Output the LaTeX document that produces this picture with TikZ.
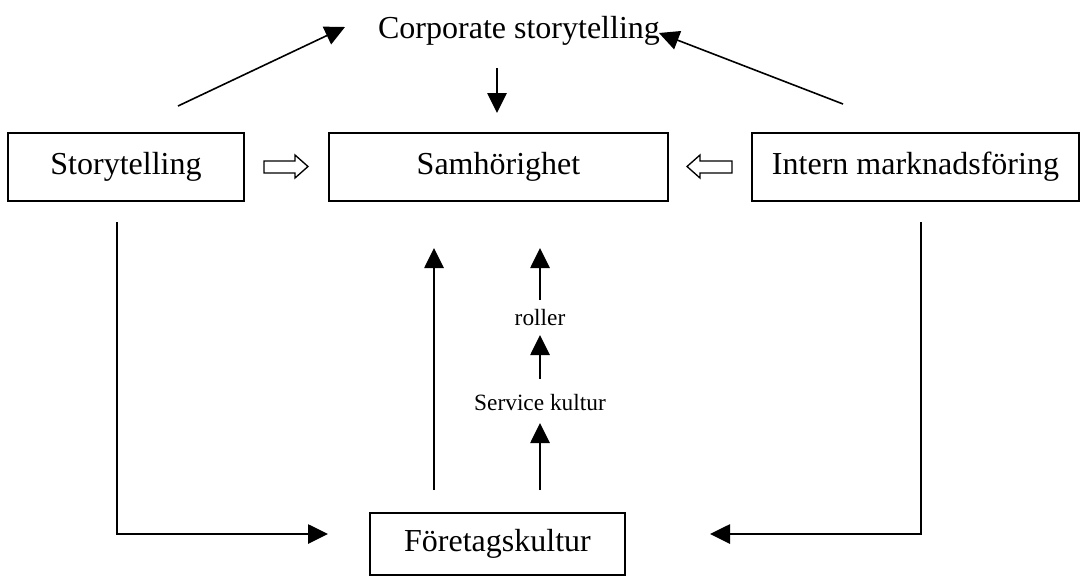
\documentclass[tikz,border=0pt]{standalone}
\usepackage{fontspec}
\setmainfont{Liberation Serif}
\usetikzlibrary{arrows.meta}
\begin{document}
\begin{tikzpicture}[x=0.75pt,y=-0.75pt,
  box/.style={draw,line width=1.3pt,minimum width=#1,minimum height=51pt,inner sep=0pt,font=\fontsize{24}{28}\selectfont},
  bigtext/.style={inner sep=0pt,font=\fontsize{24}{28}\selectfont},
  smalltext/.style={inner sep=0pt,font=\fontsize{17.5}{20}\selectfont},
  arr/.style={-{Triangle[length=15pt,width=14.5pt]},line width=1.2pt},
  hollow/.style={draw,line width=1pt,line join=miter}]
\useasboundingbox (0,0) rectangle (1082,576);
% nodes
\node[bigtext] (cs) at (519,31) {Corporate storytelling};
\node[box=177pt] (st) at (126,167) {Storytelling};
\node[box=254.25pt] (sa) at (498.5,167) {Samhörighet};
\node[box=245.25pt] (im) at (915.5,167) {Intern marknadsföring};
\node[box=191.25pt,minimum height=46.5pt] (fk) at (497.5,544) {Företagskultur};
\node[smalltext] (ro) at (540,318) {roller};
\node[smalltext] (sk) at (540,403) {Service kultur};
% connector end points
\coordinate (stUp) at (178,106);
\coordinate (csL) at (345,27);
\coordinate (imUp) at (843,104);
\coordinate (csR) at (659,33);
\coordinate (csDown) at (497,68);
\coordinate (saTop) at (497,113);
\coordinate (stDown) at (117,222);
\coordinate (fkL) at (328,534);
\coordinate (imDown) at (921,222);
\coordinate (fkR) at (710,534);
\coordinate (fkUpA) at (434,490);
\coordinate (saBotA) at (434,248);
\coordinate (fkUpB) at (540,490);
\coordinate (skBot) at (540,423);
\coordinate (skTop) at (540,379);
\coordinate (roBot) at (540,335);
\coordinate (roTop) at (540,300);
\coordinate (saBotB) at (540,248);
% connectors
\draw[arr] (stUp) -- (csL);
\draw[arr] (imUp) -- (csR);
\draw[arr] (csDown) -- (saTop);
\draw[arr] (stDown) |- (fkL);
\draw[arr] (imDown) |- (fkR);
\draw[arr] (fkUpA) -- (saBotA);
\draw[arr] (fkUpB) -- (skBot);
\draw[arr] (skTop) -- (roBot);
\draw[arr] (roTop) -- (saBotB);
% hollow block arrows
\draw[hollow] (264,161) -- (295,161) -- (295,155) -- (308,166.5) -- (295,178) -- (295,173) -- (264,173) -- cycle;
\draw[hollow] (732,161) -- (700,161) -- (700,155) -- (687,166.5) -- (700,178) -- (700,173) -- (732,173) -- cycle;
\end{tikzpicture}
\end{document}
